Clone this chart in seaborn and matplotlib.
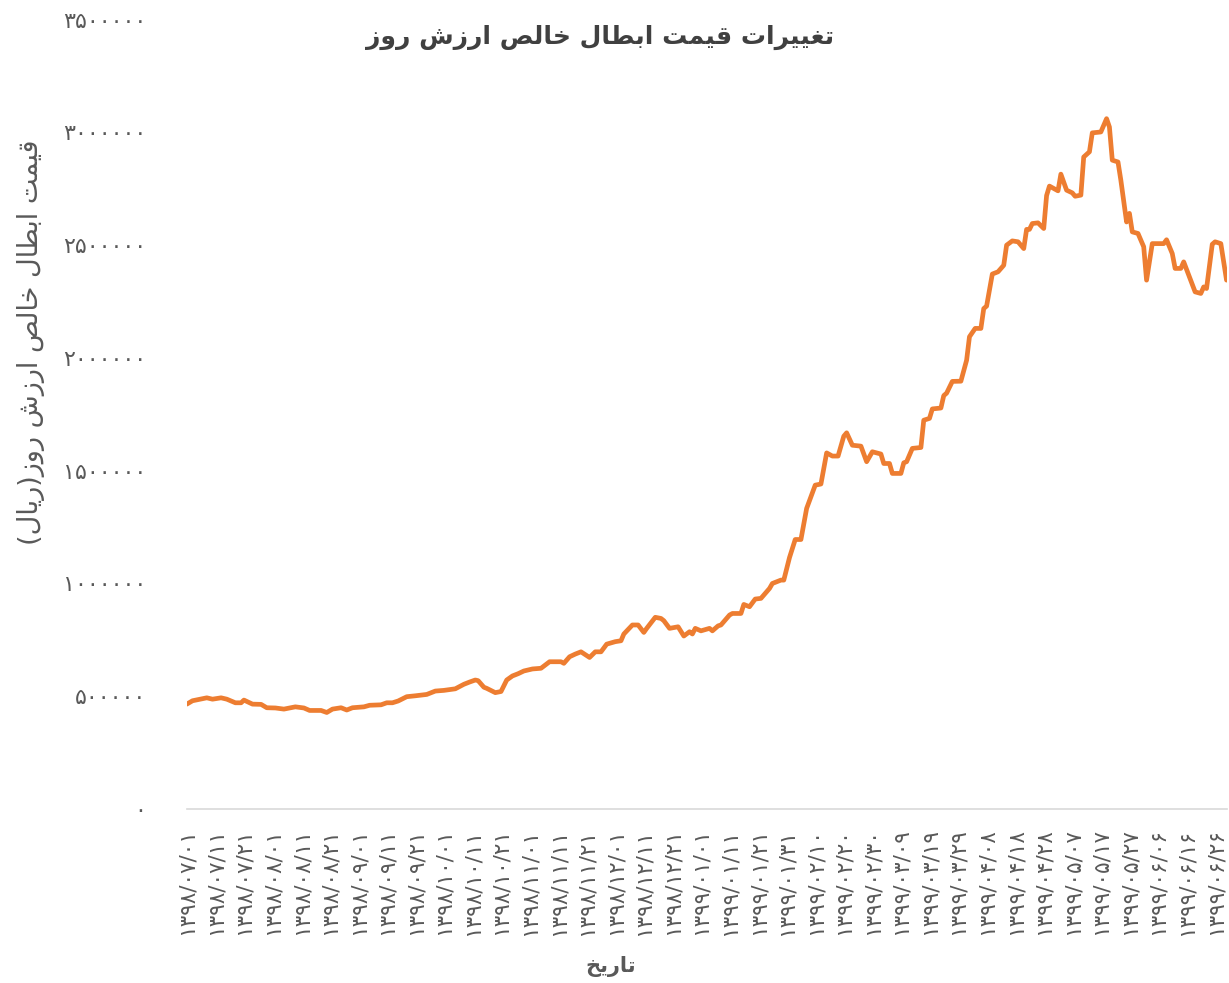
import matplotlib
matplotlib.use("Agg")
import matplotlib.pyplot as plt
import seaborn as sns
import pandas as pd

# روزهای نمودار (اندیس دسته از ۱۳۹۸/۰۷/۰۱)
day_idx = [0, 2, 5, 7, 9, 12, 14, 17, 19, 20, 23, 26, 28, 31, 34, 38, 41, 43, 47, 49,
           51, 54, 56, 58, 62, 64, 68, 70, 72, 74, 77, 80, 84, 87, 90, 94, 97, 99, 101, 102,
           104, 105, 108, 110, 112, 114, 116, 118, 121, 124, 127, 131, 132, 134, 136, 138, 141, 143, 145, 147,
           150, 152, 153, 156, 158, 160, 161, 164, 166, 167, 169, 172, 174, 176, 177, 178, 180, 183, 184, 186,
           187, 190, 191, 194, 195, 197, 199, 201, 204, 205, 208, 209, 211, 213, 215, 217, 220, 222, 224, 226,
           228, 230, 231, 233, 236, 238, 240, 243, 244, 246, 247, 250, 251, 252, 254, 257, 258, 260, 261, 264,
           265, 266, 268, 271, 273, 274, 276, 278, 279, 280, 282, 284, 286, 287, 289, 291, 293, 294, 295, 296,
           298, 300, 301, 302, 305, 306, 308, 310, 311, 313, 314, 316, 317, 320, 322, 323, 324, 326, 327, 329,
           330, 331, 333, 335, 336, 338, 342, 343, 345, 346, 348, 349, 351, 353, 355, 356, 357, 359, 360, 362,
           364]

nav_values = [465000, 480000, 488000, 493000, 487000, 493000, 487000, 471000, 471000, 483000,
              465000, 464000, 449000, 448000, 443000, 453000, 448000, 437000, 437000, 428000,
              443000, 449000, 439000, 449000, 453000, 460000, 462000, 471000, 471000, 479000,
              498000, 502000, 508000, 523000, 526000, 533000, 553000, 563000, 572000, 569000,
              540000, 535000, 516000, 521000, 572000, 590000, 600000, 612000, 621000, 624000,
              653000, 653000, 646000, 675000, 687000, 697000, 672000, 697000, 697000, 731000,
              742000, 746000, 776000, 816000, 816000, 783000, 801000, 850000, 845000, 835000,
              801000, 808000, 767000, 786000, 776000, 801000, 790000, 801000, 790000, 812000,
              816000, 860000, 867000, 867000, 907000, 897000, 931000, 934000, 978000, 1000000,
              1015000, 1015000, 1115000, 1195000, 1195000, 1333000, 1436000, 1441000, 1579000, 1565000,
              1565000, 1653000, 1668000, 1613000, 1609000, 1540000, 1584000, 1574000, 1532000, 1532000,
              1488000, 1488000, 1535000, 1540000, 1599000, 1603000, 1724000, 1732000, 1774000, 1778000,
              1833000, 1844000, 1896000, 1897000, 1990000, 2094000, 2131000, 2131000, 2219000, 2230000,
              2372000, 2382000, 2411000, 2500000, 2519000, 2515000, 2485000, 2570000, 2570000, 2596000,
              2599000, 2574000, 2720000, 2762000, 2741000, 2815000, 2744000, 2732000, 2717000, 2722000,
              2891000, 2914000, 2998000, 3002000, 3061000, 3024000, 2877000, 2869000, 2788000, 2603000,
              2641000, 2559000, 2552000, 2493000, 2345000, 2507000, 2507000, 2524000, 2463000, 2397000,
              2397000, 2426000, 2360000, 2293000, 2286000, 2315000, 2308000, 2504000, 2515000, 2507000,
              2345000]

date_labels = ['۱۳۹۸/۰۷/۰۱', '۱۳۹۸/۰۷/۱۱', '۱۳۹۸/۰۷/۲۱', '۱۳۹۸/۰۸/۰۱', '۱۳۹۸/۰۸/۱۱', '۱۳۹۸/۰۸/۲۱',
               '۱۳۹۸/۰۹/۰۱', '۱۳۹۸/۰۹/۱۱', '۱۳۹۸/۰۹/۲۱', '۱۳۹۸/۱۰/۰۱', '۱۳۹۸/۱۰/۱۱', '۱۳۹۸/۱۰/۲۱',
               '۱۳۹۸/۱۱/۰۱', '۱۳۹۸/۱۱/۱۱', '۱۳۹۸/۱۱/۲۱', '۱۳۹۸/۱۲/۰۱', '۱۳۹۸/۱۲/۱۱', '۱۳۹۸/۱۲/۲۱',
               '۱۳۹۹/۰۱/۰۱', '۱۳۹۹/۰۱/۱۱', '۱۳۹۹/۰۱/۲۱', '۱۳۹۹/۰۱/۳۱', '۱۳۹۹/۰۲/۱۰', '۱۳۹۹/۰۲/۲۰',
               '۱۳۹۹/۰۲/۳۰', '۱۳۹۹/۰۳/۰۹', '۱۳۹۹/۰۳/۱۹', '۱۳۹۹/۰۳/۲۹', '۱۳۹۹/۰۴/۰۸', '۱۳۹۹/۰۴/۱۸',
               '۱۳۹۹/۰۴/۲۸', '۱۳۹۹/۰۵/۰۷', '۱۳۹۹/۰۵/۱۷', '۱۳۹۹/۰۵/۲۷', '۱۳۹۹/۰۶/۰۶', '۱۳۹۹/۰۶/۱۶',
               '۱۳۹۹/۰۶/۲۶']
y_ticks = [0, 500000, 1000000, 1500000, 2000000, 2500000, 3000000, 3500000]
y_labels = ['۰', '۵۰۰۰۰۰', '۱۰۰۰۰۰۰', '۱۵۰۰۰۰۰', '۲۰۰۰۰۰۰', '۲۵۰۰۰۰۰', '۳۰۰۰۰۰۰', '۳۵۰۰۰۰۰']

title_txt = 'تغییرات قیمت ابطال خالص ارزش روز'
ylabel_txt = 'قیمت ابطال خالص ارزش روز(ریال)'
xlabel_txt = 'تاریخ'

# حالت های حروف (تنها، پایانی، آغازی، میانی)
FORMS = {
    'ا': ('\uFE8D', '\uFE8E', None, None),
    'ب': ('\uFE8F', '\uFE90', '\uFE91', '\uFE92'),
    'ت': ('\uFE95', '\uFE96', '\uFE97', '\uFE98'),
    'خ': ('\uFEA5', '\uFEA6', '\uFEA7', '\uFEA8'),
    'ر': ('\uFEAD', '\uFEAE', None, None),
    'ز': ('\uFEAF', '\uFEB0', None, None),
    'ش': ('\uFEB5', '\uFEB6', '\uFEB7', '\uFEB8'),
    'ص': ('\uFEB9', '\uFEBA', '\uFEBB', '\uFEBC'),
    'ط': ('\uFEC1', '\uFEC2', '\uFEC3', '\uFEC4'),
    'غ': ('\uFECD', '\uFECE', '\uFECF', '\uFED0'),
    'ق': ('\uFED5', '\uFED6', '\uFED7', '\uFED8'),
    'ل': ('\uFEDD', '\uFEDE', '\uFEDF', '\uFEE0'),
    'م': ('\uFEE1', '\uFEE2', '\uFEE3', '\uFEE4'),
    'و': ('\uFEED', '\uFEEE', None, None),
    'ی': ('\uFEEF', '\uFEF0', '\uFEF3', '\uFEF4'),
}


def fa(txt):
    out = []
    for i, ch in enumerate(txt):
        if ch not in FORMS:
            out.append(ch)
            continue
        prev = txt[i - 1] if i > 0 else ''
        nxt = txt[i + 1] if i + 1 < len(txt) else ''
        jp = prev in FORMS and FORMS[prev][2] is not None
        jn = FORMS[ch][2] is not None and nxt in FORMS
        iso, fin, ini, med = FORMS[ch]
        if jp and jn:
            out.append(med)
        elif jp:
            out.append(fin)
        elif jn:
            out.append(ini)
        else:
            out.append(iso)
    s = ''.join(out)[::-1]
    return s.translate(str.maketrans('()', ')('))


sns.set_theme(style="white")
plt.rcParams['font.family'] = ['DejaVu Sans']

df = pd.DataFrame({'day': day_idx, 'nav': nav_values})

fig = plt.figure(figsize=(12.29, 9.83), dpi=100)
ax = fig.add_axes([0.152, 0.177, 0.846, 0.803])

sns.lineplot(data=df, x='day', y='nav', ax=ax, color='#ED7D31', linewidth=3.4,
             estimator=None, sort=False)

ax.set_xlim(0, 364)
ax.set_ylim(0, 3500000)
ax.set_xticks(range(0, 361, 10))
ax.set_xticklabels(date_labels, rotation=90, fontsize=15.5, color='#595959')
ax.set_yticks(y_ticks)
ax.set_yticklabels(y_labels, fontsize=16, color='#595959')
ax.tick_params(axis='x', length=0, pad=14)
ax.tick_params(axis='y', length=0, pad=29)
ax.set_xlabel('')
ax.set_ylabel('')

for s in ['top', 'right', 'left']:
    ax.spines[s].set_visible(False)
ax.spines['bottom'].set_color('#D9D9D9')
ax.spines['bottom'].set_linewidth(1.2)

fig.text(0.488, 0.962, fa(title_txt), ha='center', va='center', fontsize=18,
         fontweight='bold', color='#404040')
fig.text(0.025, 0.652, fa(ylabel_txt), ha='center', va='center', rotation=90,
         fontsize=19.5, color='#595959')
fig.text(0.497, 0.006, fa(xlabel_txt), ha='center', va='bottom', fontsize=15,
         fontweight='bold', color='#595959')

fig.savefig('out.png', dpi=100)
